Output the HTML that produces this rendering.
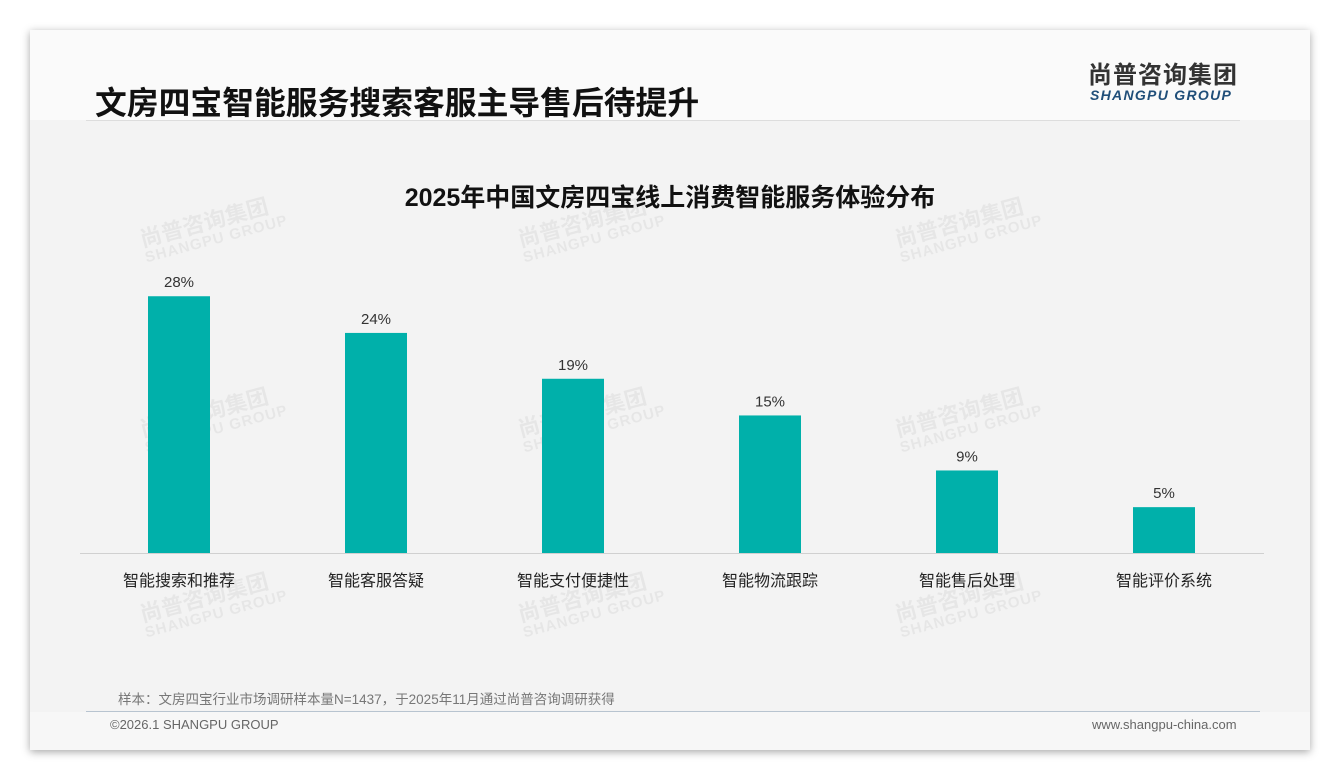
<!DOCTYPE html>
<html><head><meta charset="utf-8"><style>
body{margin:0;width:1340px;height:780px;background:#fff;position:relative;overflow:hidden;font-family:"Liberation Sans","Noto Sans CJK SC",sans-serif}
.card{position:absolute;left:30px;top:30px;width:1280px;height:720px;background:#f7f7f7;box-shadow:0 2px 8px rgba(0,0,0,.35)}
.t{position:absolute;white-space:nowrap}
.wm{position:absolute;color:rgba(0,0,0,.05);font-weight:bold;transform:rotate(-15deg);line-height:1;font-size:22px}
.wm span{display:block;font-size:15px;letter-spacing:1px}
</style></head><body>
<div class="card">
 <div style="position:absolute;left:0;top:0;width:1280px;height:90px;background:#fafafa"></div>
 <div style="position:absolute;left:0;top:90px;width:1280px;height:592px;background:#f3f3f3"></div>
 <div style="position:absolute;left:56px;top:90px;width:1154px;height:1px;background:#ddd"></div>
</div>
<div class="t" style="left:95px;top:78px;font-size:31.8px;font-weight:bold;color:#111">文房四宝智能服务搜索客服主导售后待提升</div>
<div class="t" style="left:1088px;top:64px;font-size:24px;line-height:24px;font-weight:bold;color:#333;letter-spacing:1px">尚普咨询集团</div>
<div class="t" style="left:1090px;top:88px;font-size:14px;line-height:15px;font-weight:bold;font-style:italic;color:#1f4e79;letter-spacing:1.3px">SHANGPU GROUP</div>
<div class="t" style="left:0;width:1340px;text-align:center;top:178px;font-size:25px;font-weight:bold;color:#111">2025年中国文房四宝线上消费智能服务体验分布</div>
<div id="wms"></div>
<svg id="chart" width="1340" height="780" style="position:absolute;left:0;top:0"></svg>
<div class="t" style="left:118px;top:688px;font-size:13.5px;color:#777">样本：文房四宝行业市场调研样本量N=1437，于2025年11月通过尚普咨询调研获得</div>
<div style="position:absolute;left:86px;top:711px;width:1174px;height:1px;background:#b8c4d0"></div>
<div class="t" style="left:110px;top:717px;font-size:13px;color:#666">©2026.1 SHANGPU GROUP</div>
<div class="t" style="left:1092px;top:717px;font-size:13px;color:#666">www.shangpu-china.com</div>
<script>
const categories=["智能搜索和推荐","智能客服答疑","智能支付便捷性","智能物流跟踪","智能售后处理","智能评价系统"];
const values=[28,24,19,15,9,5];
const labels=["28%","24%","19%","15%","9%","5%"];
const ns="http://www.w3.org/2000/svg";
const svg=document.getElementById('chart');
const baseY=553, pxPer=9.17, x0=179, step=197, bw=62;
const xs=i=>x0+i*step, ys=v=>baseY-v*pxPer;
function mk(t,a){const e=document.createElementNS(ns,t);for(const k in a)e.setAttribute(k,a[k]);svg.appendChild(e);return e;}
const ax=mk('line',{x1:80,x2:1264,y1:553.5,y2:553.5,stroke:'#d0d0d0','stroke-width':1});


values.forEach((v,i)=>{
 const r=mk('rect',{x:xs(i)-bw/2,y:ys(v),width:bw,height:baseY-ys(v),fill:'#00b0aa'});
 
 
 const l=mk('text',{x:xs(i),y:ys(v)-9,'text-anchor':'middle','font-size':15,fill:'#333','font-family':'Liberation Sans, Noto Sans CJK SC, sans-serif'});
 l.textContent=labels[i];
 
 
 const c=mk('text',{x:xs(i),y:586,'text-anchor':'middle','font-size':16,fill:'#222','font-family':'Liberation Sans, Noto Sans CJK SC, sans-serif'});
 c.textContent=categories[i];
 
 
});
const w=document.getElementById('wms');
[[140,210],[518,210],[895,210],[140,400],[518,400],[895,400],[140,585],[518,585],[895,585]].forEach(p=>{
 const d=document.createElement('div');d.className='wm';d.style.left=p[0]+'px';d.style.top=p[1]+'px';
 d.innerHTML='尚普咨询集团<span>SHANGPU GROUP</span>';
 
 
 w.appendChild(d);
});
</script>
</body></html>
